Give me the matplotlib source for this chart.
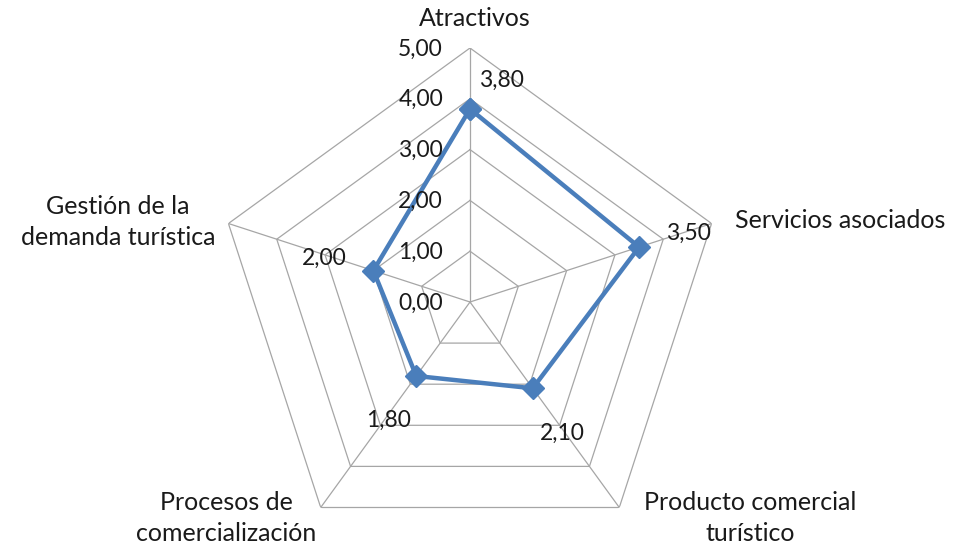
import numpy as np
import matplotlib
matplotlib.use("Agg")
import matplotlib.pyplot as plt

plt.rcParams['font.family'] = ['Lato', 'DejaVu Sans']

categories = ["Atractivos", "Servicios asociados", "Producto comercial\nturístico",
              "Procesos de\ncomercialización", "Gestión de la\ndemanda turística"]
values = [3.80, 3.50, 2.10, 1.80, 2.00]
ring_levels = [0, 1, 2, 3, 4, 5]
ring_labels = ["0,00", "1,00", "2,00", "3,00", "4,00", "5,00"]

line_color = "#4A7EBB"
grid_color = "#A6A6A6"
text_color = "#1a1a1a"
r_max = 5.0

fig = plt.figure(figsize=(9.56, 5.45), dpi=100)
ax = fig.add_axes([216 / 956, -11 / 545, 508 / 956, 508 / 545], projection="polar")
ax.set_theta_offset(np.pi / 2)
ax.set_theta_direction(-1)
ax.set_ylim(0, r_max)
ax.grid(False)
ax.spines["polar"].set_visible(False)
ax.set_xticks([])
ax.set_yticks([])
ax.patch.set_alpha(0)

n = len(categories)
theta = np.linspace(0, 2 * np.pi, n, endpoint=False)
theta_closed = np.append(theta, theta[0])

# pentagon rings
for lvl in ring_levels[1:]:
    ax.plot(theta_closed, [lvl] * (n + 1), color=grid_color, lw=0.9, zorder=1)
# spokes
for t in theta:
    ax.plot([t, t], [0, r_max], color=grid_color, lw=0.9, zorder=1)

# data series
vals_closed = values + values[:1]
ax.plot(theta_closed, vals_closed, color=line_color, lw=3.2, zorder=3,
        marker="D", markersize=11, markerfacecolor=line_color,
        markeredgecolor=line_color, clip_on=False)

# radial axis labels
for lvl, lab in zip(ring_levels, ring_labels):
    ax.annotate(lab, xy=(0, lvl), xytext=(-27, -1), textcoords="offset pixels",
                ha="right", va="center", fontsize=16.5, color=text_color,
                annotation_clip=False)

# data labels (pixel offsets from each marker)
label_offsets = [(9, 29), (27, 14), (7, -45), (-50, -44), (-27, 12)]
label_ha = ["left", "left", "left", "left", "right"]
for t, v, off, ha in zip(theta, values, label_offsets, label_ha):
    ax.annotate(f"{v:.2f}".replace(".", ","), xy=(t, v), xytext=off,
                textcoords="offset pixels", ha=ha, va="center",
                fontsize=16.5, color=text_color, annotation_clip=False)

# category labels
cat_pos = [(475, 18, "center"), (735, 221, "left"), (750, 518, "center"),
           (226, 518, "center"), (118, 222, "center")]
for lab, (x, y, ha) in zip(categories, cat_pos):
    fig.text(x / 956, 1 - y / 545, lab, ha=ha, va="center", fontsize=18,
             color=text_color, linespacing=1.45)

fig.savefig("out.png", dpi=100)
